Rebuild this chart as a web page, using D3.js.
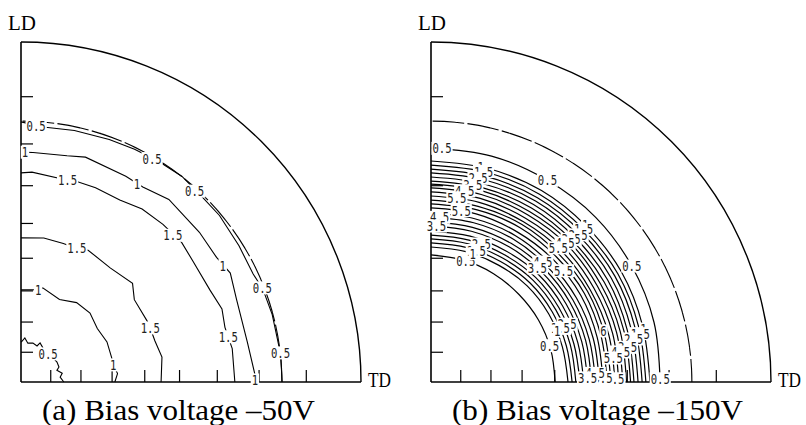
<!DOCTYPE html>
<html>
<head>
<meta charset="utf-8">
<script src="https://cdn.jsdelivr.net/npm/d3@7"></script>
<style>
  body { margin: 0; background: #fff; }
</style>
</head>
<body>
<svg id="chart" width="806" height="425"></svg>
<script>
// tilt angles (deg) of the ticks on both axes, and measurement limit
const tiltTicks = [10, 20, 30, 40, 50, 60, 70, 80];
const limitTilt = 75;
const titles = ["(a) Bias voltage \u201350V", "(b) Bias voltage \u2013150V"];

// (a) -50V : contour lines as [azimuth from TD (deg), radius in % of pole figure]
const levelsA = [0.5, 1, 1.5, 1.5, 1, 0.5];
const contoursA = [
  [[0,76.8],[6,76.8],[15,76.5],[21,76.2],[25,75.3],[32,75.6],[40,76.2],[46,76.2],[52,76.8],[58,76.5],[64,76.2],[70,75.9],[78,75.6],[85,75.3],[90,76.5]],
  [[0,68.8],[2,68.8],[10,67.6],[21,67.9],[27.5,69.4],[32.5,68.2],[40,68.5],[51,69.1],[58,67.6],[63,67.9],[74,68.8],[78.5,67.9],[87,67.6],[90,67.6]],
  [[0,62.9],[9,62.9],[12,62.4],[15,62.1],[20,62.9],[26,61.8],[35,61.8],[41,62.6],[48,62.4],[55,62.1],[61.5,60.9],[69,61.2],[74,61.2],[77,60.9],[87,61.8],[90,61.5]],
  [[0,41.2],[10,42.1],[17,41.2],[23,41.2],[26,41.2],[36,41.2],[41.5,43.8],[52,42.6],[63,43.5],[67,42.6],[73,42.6],[81,42.9],[90,42.4]],
  [[0,27.6],[5,28.5],[10.5,27.6],[15,27.6],[25,27.9],[35,27.4],[45,28.7],[55,28.5],[65,26.8],[77,28.4],[80,27.6],[90,27.1]],
  [[0,12.6],[7,11.6],[12,12.4],[18,11.1],[21.5,12.0],[29,12.1],[46,11.8],[57,11.9],[64,12.8],[66,11.6],[73,12.0],[80,11.6],[85,13.0],[89,11.9],[90,11.8]]
];
// contour labels: [level, azimuth, radius %]
const labelsA = [
  [0.5,86.6,75.3],[0.5,59.6,76.2],[0.5,47.7,75.9],[0.5,21.3,76.2],[0.5,6.4,76.8],
  [1,89,67.6],[1,59.7,67.6],[1,30,68.5],[1,0.5,68.8],
  [1.5,77,60.9],[1.5,44,62.1],[1.5,12.3,62.4],
  [1.5,67.3,42.6],[1.5,22.7,41.2],
  [1,79.5,27.6],[1,10.5,27.6],
  [0.5,46,11.5]
];

// (b) -150V : radius % of each contour sampled at these azimuths
const azB = [0, 15, 30, 45, 60, 75, 90];
const levelsB = [0.5,1,1.5,2,2.5,3,3.5,4,4.5,5,5.5,6,6,5.5,5,4.5,4,3.5,3,2.5,2,1.5,1,0.5];
const radiiB = [
  [67.4,67.9,68.2,68.5,68.5,68.8,68.8],
  [64.4,64.4,64.7,64.7,65.0,65.0,65.0],
  [63.2,63.2,63.5,63.5,63.8,63.8,63.8],
  [62.1,62.1,62.4,62.4,62.6,62.6,62.6],
  [60.9,60.9,61.2,61.2,61.5,61.5,61.5],
  [59.7,59.7,60.0,60.0,60.3,60.3,60.3],
  [58.7,58.7,58.8,58.8,59.1,59.1,59.1],
  [57.5,57.6,57.6,57.9,57.9,58.2,58.2],
  [56.4,56.5,56.5,56.8,56.8,57.1,57.1],
  [55.2,55.3,55.3,55.6,55.6,55.9,55.9],
  [54.1,54.1,54.1,54.4,54.4,54.7,54.7],
  [52.9,52.9,53.2,53.2,53.5,53.5,53.5],
  [51.8,51.8,52.1,52.1,52.4,52.4,52.4],
  [50.6,50.6,50.9,50.9,50.9,51.2,51.2],
  [49.5,49.4,49.4,49.4,49.7,49.7,49.7],
  [48.4,48.2,48.2,48.2,48.5,48.5,48.5],
  [47.2,47.1,47.1,47.1,47.1,47.1,47.1],
  [46.1,45.9,45.9,45.9,45.9,45.9,45.9],
  [44.9,44.7,44.7,44.7,44.4,44.4,44.4],
  [43.8,43.5,43.5,43.5,43.2,43.2,43.2],
  [42.6,42.4,42.4,42.4,42.1,42.1,42.1],
  [41.5,41.2,41.2,41.2,40.9,40.9,40.9],
  [40.3,40.0,40.0,40.0,39.7,39.7,39.7],
  [36.5,36.5,36.5,36.5,36.8,37.1,37.4]
];
// contour labels: [contour index, azimuth]
const labelsB = [
  [0,87.3],[0,60],[0,30],[0,0.8],[23,74],[23,17],
  [1,77],[2,76],[4,77],[6,78],[8,80],[10,82],[13,80],[15,87],[17,88],[19,70],[21,71],[22,72],
  [1,45.5],[2,45],[4,45],[6,45.5],[8,46],[10,46.5],[13,40],[15,47],[17,47],
  [1,14],[2,13],[4,12],[6,10],[8,9],[10,7.5],[11,16.5],[19,23],[21,22.5],[22,22],
  [10,1],[13,1.5],[15,3],[17,1.5]
];

const svg = d3.select("#chart");
const R = 340, cy = 382, centers = [21, 431];
const rScale = d3.scaleLinear().domain([0, 100]).range([0, R]);
const rad = d => d * Math.PI / 180;
const stereo = t => 100 * Math.tan(rad(t / 2));
const fmt = v => (v % 1 ? v.toFixed(1) : String(v));

const radial = d3.lineRadial()
  .angle(d => rad(90 - d[0]))
  .radius(d => rScale(d[1]));

function polar(az, r) {
  const a = rad(az);
  return [rScale(r) * Math.cos(a), -rScale(r) * Math.sin(a)];
}

function drawFrame(g, i) {
  g.append("path")
    .attr("d", d3.arc().innerRadius(R).outerRadius(R).startAngle(0).endAngle(Math.PI / 2)())
    .attr("fill", "none").attr("stroke", "#000").attr("stroke-width", 1.4);
  g.append("line").attr("x1", 0).attr("y1", 0).attr("x2", 0).attr("y2", -R)
    .attr("stroke", "#000").attr("stroke-width", 1.6);
  g.append("line").attr("x1", 0).attr("y1", 0).attr("x2", R).attr("y2", 0)
    .attr("stroke", "#000").attr("stroke-width", 1.6);

  g.selectAll(".tx").data(tiltTicks).enter().append("line")
    .attr("x1", d => rScale(stereo(d))).attr("x2", d => rScale(stereo(d)))
    .attr("y1", 0).attr("y2", -12)
    .attr("stroke", "#000").attr("stroke-width", 1.2);
  g.selectAll(".ty").data(tiltTicks).enter().append("line")
    .attr("y1", d => -rScale(stereo(d))).attr("y2", d => -rScale(stereo(d)))
    .attr("x1", 0).attr("x2", 12)
    .attr("stroke", "#000").attr("stroke-width", 1.2);

  // measurement limit
  g.append("path")
    .attr("d", d3.arc().innerRadius(rScale(stereo(limitTilt))).outerRadius(rScale(stereo(limitTilt)))
      .startAngle(Math.PI / 2).endAngle(0)())
    .attr("fill", "none").attr("stroke", "#000").attr("stroke-width", 1.1)
    .attr("stroke-dasharray", "23,12");

  const serif = "'Liberation Serif','Times New Roman',serif";
  g.append("text").attr("x", -13).attr("y", -352).text("LD")
    .attr("textLength", 28).attr("lengthAdjust", "spacingAndGlyphs")
    .style("font-family", serif).style("font-size", "21px");
  g.append("text").attr("x", 347).attr("y", 5).text("TD")
    .attr("textLength", 23).attr("lengthAdjust", "spacingAndGlyphs")
    .style("font-family", serif).style("font-size", "20px");
  g.append("text").attr("x", 21).attr("y", 38).text(titles[i])
    .attr("textLength", i ? 291 : 273).attr("lengthAdjust", "spacingAndGlyphs")
    .style("font-family", serif).style("font-size", "29px");
}

function drawLabel(g, v, az, r) {
  const [x, y] = polar(az, r);
  const s = fmt(v), w = 6.4 * s.length;
  g.append("rect").attr("x", x - w / 2 - 1).attr("y", y - 6.5).attr("width", w + 2).attr("height", 13)
    .attr("fill", "#fff");
  g.append("text").attr("x", x - w / 2).attr("y", y + 5).text(s)
    .attr("textLength", w).attr("lengthAdjust", "spacingAndGlyphs")
    .style("font-family", "'DejaVu Sans Mono',monospace").style("font-size", "14px")
    .style("fill", "#222");
}

// panel (a)
const gA = svg.append("g").attr("transform", `translate(${centers[0]},${cy})`);
drawFrame(gA, 0);
gA.selectAll(".c").data(contoursA).enter().append("path")
  .attr("d", d => radial(d))
  .attr("fill", "none").attr("stroke", "#000").attr("stroke-width", 1.1);
labelsA.forEach(d => drawLabel(gA, d[0], d[1], d[2]));

// panel (b)
const gB = svg.append("g").attr("transform", `translate(${centers[1]},${cy})`);
drawFrame(gB, 1);
const radialB = radial.curve(d3.curveCatmullRom);
gB.selectAll(".c").data(radiiB).enter().append("path")
  .attr("d", rs => radialB(rs.map((r, k) => [azB[k], r])))
  .attr("fill", "none").attr("stroke", "#000").attr("stroke-width", 1.2);
labelsB.forEach(([k, az]) => {
  const j = Math.min(azB.length - 2, Math.floor(az / 15));
  const t = (az - azB[j]) / (azB[j + 1] - azB[j]);
  const r = radiiB[k][j] + t * (radiiB[k][j + 1] - radiiB[k][j]);
  drawLabel(gB, levelsB[k], az, r);
});
</script>
</body>
</html>
